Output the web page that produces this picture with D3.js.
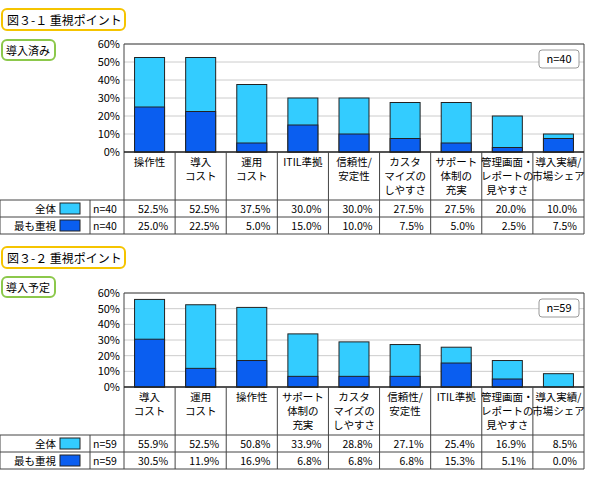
<!DOCTYPE html>
<html><head><meta charset="utf-8">
<script src="https://cdn.jsdelivr.net/npm/d3@7"></script>
<style>body{margin:0;background:#fff;font-family:"Noto Sans CJK JP",sans-serif;}</style>
</head><body><svg id="c" width="590" height="481"></svg>
<script>
// chart 1 data
var cats1 = ["操作性", "導入\nコスト", "運用\nコスト", "ITIL準拠", "信頼性/\n安定性", "カスタ\nマイズの\nしやすさ", "サポート\n体制の\n充実", "管理画面・\nレポートの\n見やすさ", "導入実績/\n市場シェア"];
var all1 = [52.5, 52.5, 37.5, 30.0, 30.0, 27.5, 27.5, 20.0, 10.0];
var top1 = [25.0, 22.5, 5.0, 15.0, 10.0, 7.5, 5.0, 2.5, 7.5];
// chart 2 data
var cats2 = ["導入\nコスト", "運用\nコスト", "操作性", "サポート\n体制の\n充実", "カスタ\nマイズの\nしやすさ", "信頼性/\n安定性", "ITIL準拠", "管理画面・\nレポートの\n見やすさ", "導入実績/\n市場シェア"];
var all2 = [55.9, 52.5, 50.8, 33.9, 28.8, 27.1, 25.4, 16.9, 8.5];
var top2 = [30.5, 11.9, 16.9, 6.8, 6.8, 6.8, 15.3, 5.1, 0.0];
var ticks = [0, 10, 20, 30, 40, 50, 60];

var svg = d3.select("#c");
var light = "#33ccff", dark = "#0a5ef0";

function panel(o) {
  var g = svg.append("g");
  // title boxes
  g.append("rect").attr("x", 2).attr("y", o.ty).attr("width", 123).attr("height", 21).attr("rx", 5)
    .attr("fill", "#fff").attr("stroke", "#f5c400").attr("stroke-width", 2);
  g.append("text").attr("x", 7).attr("y", o.ty + 16).attr("font-size", 12).text(o.title);
  g.append("rect").attr("x", 2).attr("y", o.sy).attr("width", 53).attr("height", 20).attr("rx", 5)
    .attr("fill", "#fff").attr("stroke", "#8cc84b").attr("stroke-width", 2);
  g.append("text").attr("x", 6).attr("y", o.sy + 15).attr("font-size", 11).text(o.sub);

  var x = d3.scaleBand().domain(d3.range(o.cats.length)).range([124, 584]);
  var y = d3.scaleLinear().domain([0, 60]).range([o.bottom, o.top]);

  g.selectAll(".grid").data(ticks).join("line")
    .attr("x1", 124).attr("x2", 584).attr("y1", d => y(d)).attr("y2", d => y(d))
    .attr("stroke", "#ccc");
  g.selectAll(".tl").data(ticks).join("text")
    .attr("x", 120).attr("y", d => y(d) + 4).attr("text-anchor", "end").attr("font-size", 11)
    .text(d => d + "%");

  var bw = 30;
  g.selectAll(".ba").data(o.all).join("rect")
    .attr("x", (d, i) => x(i) + (x.bandwidth() - bw) / 2).attr("width", bw)
    .attr("y", d => y(d)).attr("height", d => y(0) - y(d))
    .attr("fill", light).attr("stroke", "#222");
  g.selectAll(".bt").data(o.topv).join("rect")
    .attr("x", (d, i) => x(i) + (x.bandwidth() - bw) / 2).attr("width", bw)
    .attr("y", d => y(d)).attr("height", d => y(0) - y(d))
    .attr("fill", dark).attr("stroke", "#222").attr("display", d => d > 0 ? null : "none");

  // n box
  g.append("rect").attr("x", 539).attr("y", o.top + 6).attr("width", 40).attr("height", 18).attr("rx", 3)
    .attr("fill", "#fff").attr("stroke", "#999");
  g.append("text").attr("x", 559).attr("y", o.top + 19).attr("text-anchor", "middle").attr("font-size", 11).text(o.n);

  // frame lines
  var t1 = o.bottom + 48, t2 = t1 + 17, t3 = t2 + 17;
  g.append("line").attr("x1", 124).attr("x2", 584).attr("y1", o.top).attr("y2", o.top).attr("stroke", "#444");
  g.append("line").attr("x1", 584).attr("x2", 584).attr("y1", o.top).attr("y2", t3).attr("stroke", "#444");
  g.append("line").attr("x1", 124).attr("x2", 124).attr("y1", o.top).attr("y2", t3).attr("stroke", "#444");
  g.append("line").attr("x1", 124).attr("x2", 584).attr("y1", o.bottom).attr("y2", o.bottom).attr("stroke", "#222").attr("stroke-width", 1.5);
  [t1, t2, t3].forEach(yy => g.append("line").attr("x1", 0).attr("x2", 584).attr("y1", yy).attr("y2", yy).attr("stroke", "#444"));
  g.append("line").attr("x1", 0).attr("x2", 0).attr("y1", t1).attr("y2", t3).attr("stroke", "#444");
  g.append("line").attr("x1", 90).attr("x2", 90).attr("y1", t1).attr("y2", t3).attr("stroke", "#444");
  d3.range(1, o.cats.length).forEach(i => g.append("line").attr("x1", x(i)).attr("x2", x(i))
    .attr("y1", o.bottom).attr("y2", t3).attr("stroke", "#444"));

  // category labels
  o.cats.forEach((c, i) => {
    var tx = g.append("text").attr("x", x(i) + x.bandwidth() / 2).attr("y", o.bottom + 14)
      .attr("text-anchor", "middle").attr("font-size", 10.5);
    c.split("\n").forEach((s, k) => tx.append("tspan").attr("x", x(i) + x.bandwidth() / 2).attr("dy", k ? 14 : 0).text(s));
  });

  // table rows
  [["全体", light, o.all], ["最も重視", dark, o.topv]].forEach((r, k) => {
    var ry = t1 + k * 17;
    g.append("text").attr("x", 56).attr("y", ry + 13).attr("text-anchor", "end").attr("font-size", 10.5).text(r[0]);
    g.append("rect").attr("x", 60).attr("y", ry + 3).attr("width", 20).attr("height", 11).attr("fill", r[1]).attr("stroke", "#222");
    g.append("text").attr("x", 93).attr("y", ry + 13).attr("font-size", 10.5).text(o.n);
    r[2].forEach((v, i) => g.append("text").attr("x", x(i) + x.bandwidth() - 7).attr("y", ry + 13)
      .attr("text-anchor", "end").attr("font-size", 10.5).text(v.toFixed(1) + "%"));
  });
}

panel({title: "図３-１ 重視ポイント", sub: "導入済み", ty: 9, sy: 40, top: 44, bottom: 152,
  cats: cats1, all: all1, topv: top1, n: "n=40"});
panel({title: "図３-２ 重視ポイント", sub: "導入予定", ty: 247, sy: 277, top: 293, bottom: 387,
  cats: cats2, all: all2, topv: top2, n: "n=59"});
</script></body></html>
